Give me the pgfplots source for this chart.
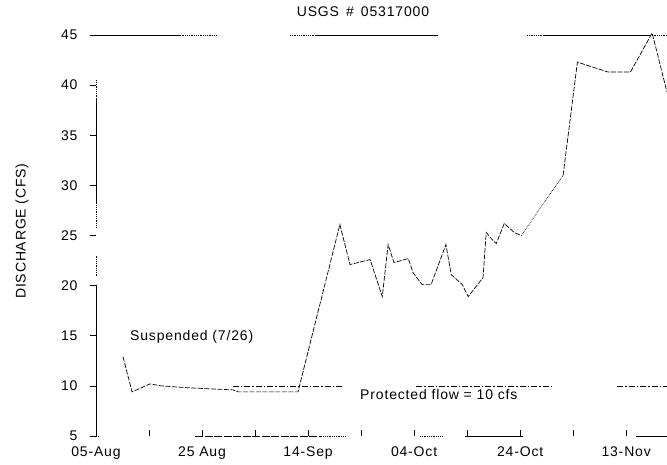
\documentclass[border=0pt]{standalone}
\usepackage{pgfplots}
\pgfplotsset{compat=1.18}
\usepackage{fontspec}
\setmainfont[LetterSpace=6]{Liberation Sans}
\newcommand\lbl{\fontsize{14}{16}\selectfont}

\begin{document}
\begin{tikzpicture}
\begin{axis}[
    at={(96pt,29pt)}, anchor=south west,
    width=571pt, height=401pt, scale only axis,
    xmin=0, xmax=107.7, ymin=5, ymax=45,
    axis lines=left, axis line style={draw=none},
    clip=false,
    xtick={0,20,...,100},
    xticklabels={05-Aug,25 Aug,14-Sep,04-Oct,24-Oct,13-Nov},
    minor xtick={10,30,...,90},
    ytick={5,10,...,45},
    tick align=center,
    major tick length=6pt, minor tick length=6pt,
    xtick style={yshift=3pt, black, line width=0.6pt},
    ytick style={xshift=-3pt, black, line width=0.6pt},
    xticklabel shift=4pt, yticklabel shift=12pt,
    tick label style={font=\lbl},
    /pgf/number format/assume math mode=true,
    title={USGS\,~\#~\,05317000},
    title style={font=\lbl, at={(0.4676,1)}, anchor=center, yshift=17pt},
    ylabel={DISCHARGE (CFS)},
    every axis y label/.style={at={(axis description cs:-0.1296,0.511)}, rotate=90,
        anchor=center, font=\lbl},
    unbounded coords=jump,
    every axis plot/.append style={black},
]
% frame, broken as in the scan
\addplot[line width=0.8pt] coordinates {
    (0,45) (15.8,45) (nan,nan) (41.3,45) (64.5,45) (nan,nan) (84.3,45) (104.5,45)
    (nan,nan) (69.6,5) (80.6,5) (nan,nan) (101.9,5) (107.7,5)
    (nan,nan) (0,38.7) (0,28.2) (nan,nan) (0,20.1) (0,5)};
\addplot[line width=0.8pt, densely dotted] coordinates {
    (15.8,45) (22.8,45) (nan,nan) (36.6,45) (41.3,45) (nan,nan) (81.3,45) (84.3,45)
    (nan,nan) (104.5,45) (107.7,45)
    (nan,nan) (0,5) (0.5,5) (nan,nan) (42.5,5) (47.2,5) (nan,nan) (61.1,5) (65.5,5)
    (nan,nan) (0,40.5) (0,38.7) (nan,nan) (0,28.2) (0,25.7) (nan,nan) (0,23.0) (0,21.0)};
\addplot[line width=0.8pt, dash pattern=on 8pt off 1.5pt] coordinates {(18.7,5) (42.5,5)};

% protected flow 10 cfs
\addplot[line width=0.6pt, dash pattern=on 6pt off 2pt on 1.5pt off 2pt] coordinates {
    (25.8,10) (46.6,10) (nan,nan) (60.4,10) (86.4,10) (nan,nan) (98.3,10) (107.7,10)};

% discharge
\addplot[line width=0.7pt, dash pattern=on 5pt off 1.5pt] coordinates {
    (5.1,12.9) (6.8,9.4) (10.2,10.2) (12.3,10.0) (17.7,9.8) (25.8,9.6) (26.8,9.4)
    (38.1,9.4) (46.0,26.1) (47.9,22.1) (51.7,22.6) (54.0,18.9) (55.1,24.1)
    (56.2,22.3) (58.9,22.7) (59.8,21.3) (61.5,20.1) (63.2,20.1) (66.0,24.1)
    (67.0,21.1) (69.1,20.1) (70.2,18.9) (73.0,20.8) (73.6,25.3) (74.7,24.6)
    (75.5,24.2) (77.0,26.2) (78.9,25.3) (80.2,25.0)};
\addplot[line width=0.7pt, densely dotted] coordinates {(80.2,25.0) (88.1,31.0)};
\addplot[line width=0.7pt, dash pattern=on 5pt off 1.5pt] coordinates {
    (88.1,31.0) (90.8,42.3) (96.6,41.3) (100.8,41.3) (104.9,45.2) (107.7,39.3)};

\node[anchor=west, inner sep=0, font=\lbl] at (axis cs:6.4,14.9) {Suspended (7/26)};
\node[anchor=west, inner sep=0, font=\lbl] at (axis cs:49.8,9.1) {Protected flow = 10 cfs};
\end{axis}
\pgfresetboundingbox
\path[use as bounding box] (0,0) rectangle (667pt,465pt);
\end{tikzpicture}
\end{document}
